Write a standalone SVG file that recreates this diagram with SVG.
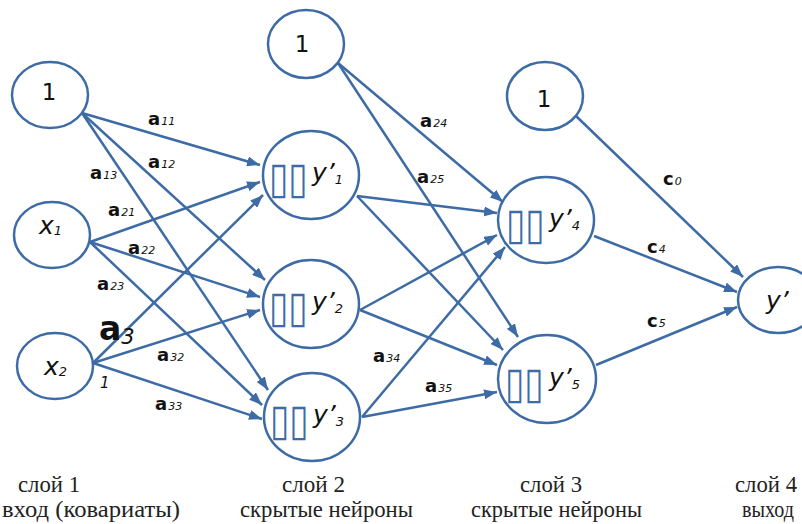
<svg xmlns="http://www.w3.org/2000/svg" width="802" height="524" viewBox="0 0 802 524">
<style>
.nd{fill:#fff;stroke:#3d6ba5;stroke-width:2.5}
.ed line{stroke:#3d6ba5;stroke-width:2.5;marker-end:url(#ah)}
.one{font-family:"DejaVu Sans",Verdana,sans-serif;font-size:23px;fill:#111;text-anchor:middle}
.var{font-family:"DejaVu Sans",Verdana,sans-serif;font-style:italic;font-size:25px;fill:#111}
.vs{font-size:13px}
.box{font-family:"DejaVu Sans",sans-serif;font-size:44px;fill:#3d6ba5}
.lb{font-family:"DejaVu Sans",Verdana,sans-serif;fill:#111}
.la{font-size:18px;font-weight:bold}
.ls{font-size:11px;font-style:italic}
.bt{font-family:"Liberation Serif","Times New Roman",serif;font-size:23px;fill:#222}
</style>
<defs>
<marker id="ah" markerUnits="userSpaceOnUse" markerWidth="13" markerHeight="10" refX="13" refY="5" orient="auto">
<path d="M0,0 L13,5 L0,10 z" fill="#3d6ba5"/>
</marker>
</defs>
<g id="edges" class="ed">
<line x1="82" y1="113" x2="260" y2="165"/>
<line x1="82" y1="113" x2="265" y2="280"/>
<line x1="82" y1="113" x2="268" y2="390"/>
<line x1="90" y1="242" x2="260" y2="182"/>
<line x1="90" y1="242" x2="260" y2="297"/>
<line x1="90" y1="242" x2="262" y2="405"/>
<line x1="93" y1="363" x2="263" y2="195"/>
<line x1="93" y1="363" x2="260" y2="310"/>
<line x1="93" y1="363" x2="262" y2="419"/>
<line x1="338" y1="63" x2="503" y2="202"/>
<line x1="338" y1="63" x2="518" y2="337"/>
<line x1="357" y1="196" x2="497" y2="213"/>
<line x1="357" y1="196" x2="503" y2="350"/>
<line x1="360" y1="310" x2="497" y2="235"/>
<line x1="360" y1="310" x2="497" y2="365"/>
<line x1="362" y1="417" x2="505" y2="247"/>
<line x1="362" y1="417" x2="497" y2="392"/>
<line x1="576" y1="116" x2="743" y2="277"/>
<line x1="594" y1="236" x2="737" y2="292"/>
<line x1="596" y1="365" x2="737" y2="307"/>
</g>
<g id="n1a"><ellipse class="nd" cx="50" cy="95" rx="38" ry="33"/><text class="one" x="49" y="100">1</text></g>
<g id="x1"><ellipse class="nd" cx="52" cy="235" rx="38" ry="33"/><text class="var" x="39" y="234">x<tspan class="vs" dy="1">1</tspan></text></g>
<g id="x2"><ellipse class="nd" cx="55" cy="366" rx="38" ry="33"/><text class="var" x="44" y="375">x<tspan class="vs" dy="1">2</tspan></text></g>
<g id="n1b"><ellipse class="nd" cx="306" cy="44" rx="38" ry="34"/><text class="one" x="302" y="52">1</text></g>
<g id="y1" transform="translate(311,175)"><ellipse class="nd" rx="48" ry="44"/><text class="box" transform="translate(-42,18) scale(0.8,1)">▯▯</text><text class="var" x="1" y="6">y’<tspan class="vs" dy="3">1</tspan></text></g>
<g id="y2" transform="translate(311,304)"><ellipse class="nd" rx="48" ry="44"/><text class="box" transform="translate(-42,18) scale(0.8,1)">▯▯</text><text class="var" x="1" y="6">y’<tspan class="vs" dy="3">2</tspan></text></g>
<g id="y3" transform="translate(312,417)"><ellipse class="nd" rx="48" ry="44"/><text class="box" transform="translate(-42,18) scale(0.8,1)">▯▯</text><text class="var" x="1" y="6">y’<tspan class="vs" dy="3">3</tspan></text></g>
<g id="n1c"><ellipse class="nd" cx="545" cy="96" rx="38" ry="34"/><text class="one" x="544" y="107">1</text></g>
<g id="y4" transform="translate(546,220)"><ellipse class="nd" rx="48" ry="43"/><text class="box" transform="translate(-40,19) scale(0.8,1)">▯▯</text><text class="var" x="3" y="7">y’<tspan class="vs" dy="3">4</tspan></text></g>
<g id="y5" transform="translate(547,379)"><ellipse class="nd" rx="49" ry="44"/><text class="box" transform="translate(-42,19) scale(0.8,1)">▯▯</text><text class="var" x="2" y="7">y’<tspan class="vs" dy="3">5</tspan></text></g>
<g id="yout"><ellipse class="nd" cx="778" cy="300" rx="40" ry="33"/><text class="var" x="766" y="309">y’</text></g>
<g id="labels" class="lb">
<text x="148" y="125"><tspan class="la">a</tspan><tspan class="ls" dx="1">11</tspan></text>
<text x="148" y="168"><tspan class="la">a</tspan><tspan class="ls" dx="1">12</tspan></text>
<text x="90" y="179"><tspan class="la">a</tspan><tspan class="ls" dx="1">13</tspan></text>
<text x="108" y="216"><tspan class="la">a</tspan><tspan class="ls" dx="1">21</tspan></text>
<text x="128" y="254"><tspan class="la">a</tspan><tspan class="ls" dx="1">22</tspan></text>
<text x="97" y="290"><tspan class="la">a</tspan><tspan class="ls" dx="1">23</tspan></text>
<text x="99" y="340"><tspan style="font-size:33px;font-weight:bold">a</tspan><tspan style="font-size:21px;font-style:italic" dy="4">3</tspan></text>
<text x="100" y="388" style="font-size:15px;font-style:italic">1</text>
<text x="157" y="361"><tspan class="la">a</tspan><tspan class="ls" dx="1">32</tspan></text>
<text x="155" y="410"><tspan class="la">a</tspan><tspan class="ls" dx="1">33</tspan></text>
<text x="420" y="127"><tspan class="la">a</tspan><tspan class="ls" dx="1">24</tspan></text>
<text x="417" y="183"><tspan class="la">a</tspan><tspan class="ls" dx="1">25</tspan></text>
<text x="373" y="362"><tspan class="la">a</tspan><tspan class="ls" dx="1">34</tspan></text>
<text x="425" y="392"><tspan class="la">a</tspan><tspan class="ls" dx="1">35</tspan></text>
<text x="663" y="185"><tspan class="la">c</tspan><tspan class="ls" dx="1">0</tspan></text>
<text x="647" y="253"><tspan class="la">c</tspan><tspan class="ls" dx="1">4</tspan></text>
<text x="647" y="327"><tspan class="la">c</tspan><tspan class="ls" dx="1">5</tspan></text>
</g>
<g id="captions" class="bt">
<text x="18" y="492" textLength="62" lengthAdjust="spacingAndGlyphs">слой 1</text>
<text x="2" y="517" textLength="178" lengthAdjust="spacingAndGlyphs">вход (ковариаты)</text>
<text x="282" y="492" textLength="63" lengthAdjust="spacingAndGlyphs">слой 2</text>
<text x="240" y="517" textLength="173" lengthAdjust="spacingAndGlyphs">скрытые нейроны</text>
<text x="520" y="492" textLength="62" lengthAdjust="spacingAndGlyphs">слой 3</text>
<text x="471" y="517" textLength="171" lengthAdjust="spacingAndGlyphs">скрытые нейроны</text>
<text x="735" y="492" textLength="62" lengthAdjust="spacingAndGlyphs">слой 4</text>
<text x="742" y="517" textLength="52" lengthAdjust="spacingAndGlyphs">выход</text>
</g>
</svg>
